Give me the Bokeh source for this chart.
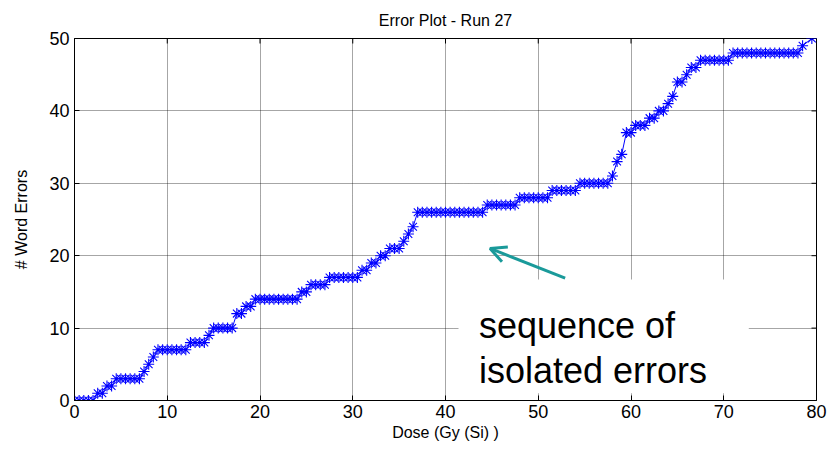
import math

from bokeh.plotting import figure
from bokeh.models import (Range1d, FixedTicker, Title, Label,
                          BoxAnnotation, Arrow, OpenHead)
from bokeh.embed import file_html
from bokeh.resources import INLINE

# Cumulative word errors against accumulated dose, Run 27
dose = [
    0.0, 0.5, 1.0, 1.5, 2.0, 2.5, 3.0, 3.5, 4.0, 4.5,
    5.0, 5.5, 6.0, 6.5, 7.0, 7.5, 8.0, 8.5, 9.0, 9.5,
    10.0, 10.5, 11.0, 11.5, 12.0, 12.5, 13.0, 13.5, 14.0, 14.5,
    15.0, 15.5, 16.0, 16.5, 17.0, 17.5, 18.0, 18.5, 19.0, 19.5,
    20.0, 20.5, 21.0, 21.5, 22.0, 22.5, 23.0, 23.5, 24.0, 24.5,
    25.0, 25.5, 26.0, 26.5, 27.0, 27.5, 28.0, 28.5, 29.0, 29.5,
    30.0, 30.5, 31.0, 31.5, 32.0, 32.5, 33.0, 33.5, 34.0, 34.5,
    35.0, 35.5, 36.0, 36.5, 37.0, 37.5, 38.0, 38.5, 39.0, 39.5,
    40.0, 40.5, 41.0, 41.5, 42.0, 42.5, 43.0, 43.5, 44.0, 44.5,
    45.0, 45.5, 46.0, 46.5, 47.0, 47.5, 48.0, 48.5, 49.0, 49.5,
    50.0, 50.5, 51.0, 51.5, 52.0, 52.5, 53.0, 53.5, 54.0, 54.5,
    55.0, 55.5, 56.0, 56.5, 57.0, 57.5, 58.0, 58.5, 59.0, 59.5,
    60.0, 60.5, 61.0, 61.5, 62.0, 62.5, 63.0, 63.5, 64.0, 64.5,
    65.0, 65.5, 66.0, 66.5, 67.0, 67.5, 68.0, 68.5, 69.0, 69.5,
    70.0, 70.5, 71.0, 71.5, 72.0, 72.5, 73.0, 73.5, 74.0, 74.5,
    75.0, 75.5, 76.0, 76.5, 77.0, 77.5, 78.0, 78.5, 79.5,
]
word_errors = [
    0, 0, 0, 0, 0, 1, 1, 2, 2, 3,
    3, 3, 3, 3, 3, 4, 5, 6, 7, 7,
    7, 7, 7, 7, 7, 8, 8, 8, 8, 9,
    10, 10, 10, 10, 10, 12, 12, 13, 13, 14,
    14, 14, 14, 14, 14, 14, 14, 14, 14, 15,
    15, 16, 16, 16, 16, 17, 17, 17, 17, 17,
    17, 17, 18, 18, 19, 19, 20, 20, 21, 21,
    21, 22, 23, 24, 26, 26, 26, 26, 26, 26,
    26, 26, 26, 26, 26, 26, 26, 26, 26, 27,
    27, 27, 27, 27, 27, 27, 28, 28, 28, 28,
    28, 28, 28, 29, 29, 29, 29, 29, 29, 30,
    30, 30, 30, 30, 30, 30, 31, 33, 34, 37,
    37, 38, 38, 38, 39, 39, 40, 40, 41, 42,
    44, 44, 45, 46, 46, 47, 47, 47, 47, 47,
    47, 47, 48, 48, 48, 48, 48, 48, 48, 48,
    48, 48, 48, 48, 48, 48, 48, 49, 50,
]
x_ticks = [0, 10, 20, 30, 40, 50, 60, 70, 80]
y_ticks = [0, 10, 20, 30, 40, 50]

FONT = "Liberation Sans"
X_MIN, X_MAX = 0, 80
Y_MIN, Y_MAX = 0, 50

p = figure(width=831, height=460, output_backend="svg", toolbar_location=None,
           x_range=Range1d(X_MIN, X_MAX), y_range=Range1d(Y_MIN, Y_MAX),
           min_border_left=74, min_border_right=15,
           min_border_top=0, min_border_bottom=60,
           x_axis_label="Dose (Gy (Si) )", y_axis_label="# Word Errors")

p.title = Title(text="Error Plot - Run 27", align="center", text_font=FONT,
                text_font_size="16px", text_font_style="normal",
                text_color="black", offset=0, standoff=19,
                text_line_height=0.7, vertical_align="bottom")

p.background_fill_color = "white"
p.border_fill_color = "white"
p.outline_line_color = "black"
p.outline_line_width = 1

for ax, ticks in ((p.xaxis[0], x_ticks), (p.yaxis[0], y_ticks)):
    ax.ticker = FixedTicker(ticks=ticks)
    ax.major_tick_in = 5
    ax.major_tick_out = 0
    ax.minor_tick_line_color = None
    ax.axis_line_color = "black"
    ax.major_tick_line_color = "black"
    ax.major_label_text_font = FONT
    ax.major_label_text_font_size = "18px"
    ax.major_label_text_color = "black"
    ax.axis_label_text_font = FONT
    ax.axis_label_text_font_size = "16px"
    ax.axis_label_text_font_style = "normal"
    ax.axis_label_text_color = "black"

p.xaxis.major_label_standoff = 4
p.xaxis.axis_label_standoff = 3
p.yaxis.major_label_standoff = 5
p.yaxis.axis_label_standoff = 16

for g, ticks in ((p.xgrid[0], x_ticks), (p.ygrid[0], y_ticks)):
    g.ticker = FixedTicker(ticks=ticks)
    g.grid_line_color = "black"
    g.grid_line_alpha = 0.7
    g.grid_line_dash = "1 1"
    g.grid_line_width = 1

# Inward tick marks along the top and right edges of the box
p.scatter(x_ticks, [Y_MAX] * len(x_ticks), marker="dash", size=10,
          angle=math.pi / 2, line_color="black", line_width=1)
p.scatter([X_MAX] * len(y_ticks), y_ticks, marker="dash", size=10,
          line_color="black", line_width=1)

p.line(dose, word_errors, line_color="blue", line_width=1)
p.scatter(dose, word_errors, marker="asterisk", size=11,
          line_color="blue", line_width=1.1)

# Text call-out with its white backdrop and pointer
p.add_layout(BoxAnnotation(left=41.4, right=72.7, bottom=1.0, top=16.7,
                           fill_color="white", fill_alpha=1.0,
                           line_color=None, level="annotation"))
p.add_layout(Arrow(x_start=52.9, y_start=16.9, x_end=44.8, y_end=21.0,
                   line_color="#1a9a9a", line_width=3,
                   end=OpenHead(line_color="#1a9a9a", line_width=3, size=16)))
p.add_layout(Label(x=43.6, y=10.35, text="sequence of", text_font=FONT,
                   text_font_size="36px", text_color="black",
                   text_baseline="alphabetic"))
p.add_layout(Label(x=43.6, y=4.15, text="isolated errors", text_font=FONT,
                   text_font_size="36px", text_color="black",
                   text_baseline="alphabetic"))

open("out.html", "w").write(file_html(p, INLINE))
